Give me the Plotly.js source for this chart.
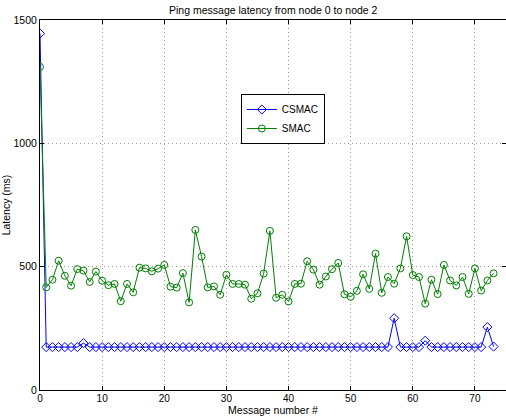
<!DOCTYPE html>
<html>
<head>
<meta charset="utf-8">
<script src="https://cdn.plot.ly/plotly-3.0.1.min.js"></script>
<style>html,body{margin:0;padding:0;background:#fff;}#chart{width:506px;height:416px;}</style>
</head>
<body>
<div id="chart"></div>
<script>
const messageNumber = [];
for (let i = 0; i <= 73; i++) messageNumber.push(i);

const csmac = [1445,174,174,174,174,174,174,190,174,174,
  174,174,174,174,174,174,174,174,174,174,
  174,174,174,174,174,174,174,174,174,174,
  174,174,174,174,174,174,174,174,174,174,
  174,174,174,174,174,174,174,174,174,174,
  174,174,174,174,174,174,174,291,174,174,
  174,174,200,174,174,174,174,174,174,174,
  174,174,255,176];

const smac = [1310,416,447,524,463,423,490,484,438,480,
  443,425,430,360,430,396,496,493,481,492,
  507,419,415,474,355,649,541,416,420,386,
  467,430,430,427,370,392,472,645,374,386,
  359,430,431,522,488,427,460,490,515,388,
  378,402,469,410,553,394,458,431,493,623,
  466,458,350,447,389,507,444,424,458,390,
  493,403,444,473];

const xTicks = [0,10,20,30,40,50,60,70];
const yTicks = [0,500,1000,1500];

const font = 'Liberation Sans, Arial, Helvetica, sans-serif';

const traces = [
  {x: messageNumber, y: csmac, name: 'CSMAC', type: 'scatter', mode: 'lines+markers',
   line: {color: '#0000ff', width: 1},
   marker: {symbol: 'diamond-open', size: 7, color: '#0000ff', line: {width: 1}}},
  {x: messageNumber, y: smac, name: 'SMAC', type: 'scatter', mode: 'lines+markers',
   line: {color: '#008000', width: 1},
   marker: {symbol: 'circle-open', size: 7, color: '#008000', line: {width: 1}}}
];

const axisCommon = {
  showline: true, linecolor: '#000', linewidth: 1, mirror: 'ticks',
  ticks: 'inside', ticklen: 4, tickcolor: '#000',
  showgrid: true, gridcolor: '#999', griddash: '1px,3px', gridwidth: 1,
  zeroline: false, tickfont: {family: font, size: 10.5, color: '#000'}
};

const layout = {
  width: 506, height: 416,
  margin: {l: 40, r: 0, t: 20, b: 26},
  paper_bgcolor: '#fff', plot_bgcolor: '#fff',
  font: {family: font, color: '#000'},
  title: {text: 'Ping message latency from node 0 to node 2', font: {family: font, size: 10.5, color: '#000'},
          x: 0.54, xanchor: 'center', y: 0.985, yanchor: 'top'},
  xaxis: Object.assign({}, axisCommon, {
    range: [0, 75], tickvals: xTicks, ticktext: xTicks.map(String),
    tickfont: {family: font, size: 10, color: '#000'}, ticklabelstandoff: -1,
    title: {text: 'Message number #', font: {family: font, size: 10.5, color: '#000'}, standoff: 1}
  }),
  yaxis: Object.assign({}, axisCommon, {
    range: [0, 1500], tickvals: yTicks, ticktext: yTicks.map(String),
    title: {text: 'Latency (ms)', font: {family: font, size: 10.5, color: '#000'}, standoff: 2}
  }),
  showlegend: true,
  legend: {x: 0.431, y: 0.80, xanchor: 'left', yanchor: 'top',
    bordercolor: '#000', borderwidth: 1, bgcolor: '#fff',
    font: {family: font, size: 10, color: '#000'}, itemwidth: 30, tracegroupgap: 0}
};

Plotly.newPlot('chart', traces, layout, {displayModeBar: false, staticPlot: true});
</script>
</body>
</html>
